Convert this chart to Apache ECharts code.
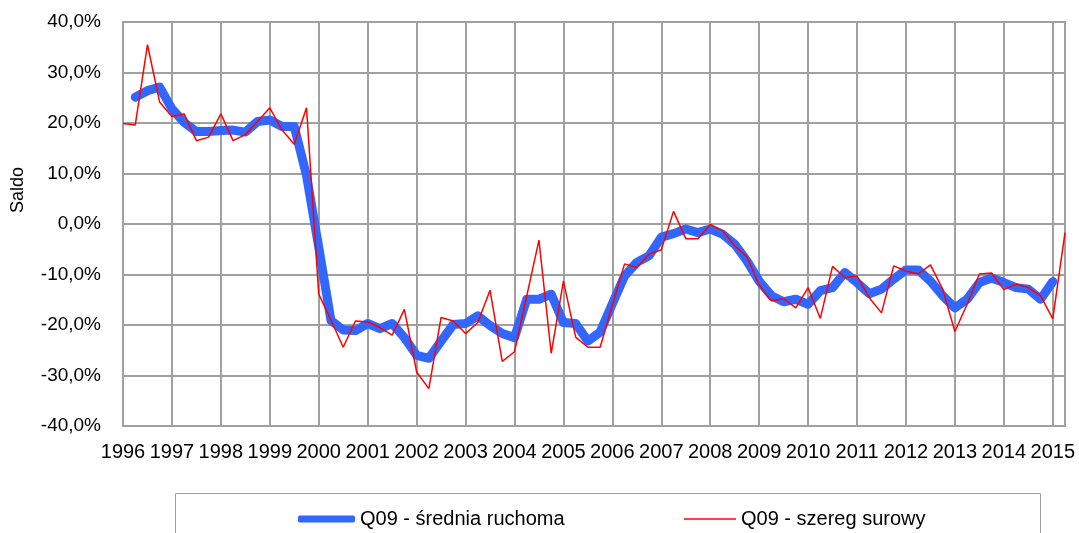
<!DOCTYPE html>
<html>
<head>
<meta charset="utf-8">
<script src="https://cdn.jsdelivr.net/npm/echarts@6/dist/echarts.min.js"></script>
<style>
  html, body { margin: 0; padding: 0; background: #fff; }
  #chart { width: 1079px; height: 533px; }
</style>
</head>
<body>
<div id="chart"></div>
<script>
// lata na osi X, dane kwartalne od 1996 Q1 do 2015 Q2
var years = [1996, 1997, 1998, 1999, 2000, 2001, 2002, 2003, 2004, 2005,
             2006, 2007, 2008, 2009, 2010, 2011, 2012, 2013, 2014, 2015];
var quartersInLastYear = 2;

// Q09 - szereg surowy (%)
var rawSeries = [
  19.9, 19.6, 35.5, 24.1, 21.3, 21.8, 16.5, 17.2, 21.8, 16.5,
  17.7, 20.3, 23.0, 18.6, 15.8, 23.0, -13.9, -19.0, -24.4, -19.2,
  -19.4, -20.5, -22.0, -16.9, -29.3, -32.6, -18.5, -19.2, -21.7, -19.5,
  -13.1, -27.2, -25.3, -14.3, -3.2, -25.6, -11.3, -22.4, -24.4, -24.4,
  -16.1, -7.9, -8.6, -6.0, -5.1, 2.5, -2.9, -2.9, -0.1, -1.3,
  -4.3, -6.5, -12.1, -15.2, -14.8, -16.6, -12.6, -18.7, -8.4, -10.6,
  -10.3, -14.6, -17.6, -8.3, -9.3, -9.9, -8.1, -12.9, -21.3, -15.9,
  -9.9, -9.7, -13.0, -11.9, -12.6, -14.2, -18.8, -1.7
];

// Q09 - średnia ruchoma (%)
var movingAvg = [
  null, 25.1, 26.4, 27.1, 22.8, 20.1, 18.3, 18.3, 18.5, 18.6,
  18.2, 20.3, 20.6, 19.3, 19.3, 9.6, -4.6, -19.1, -21.0, -21.1,
  -19.7, -20.7, -19.7, -22.5, -26.0, -26.6, -23.2, -19.9, -19.7, -18.2,
  -20.1, -21.7, -22.5, -14.9, -14.9, -13.9, -19.5, -19.7, -23.2, -21.4,
  -15.8, -10.3, -7.6, -6.3, -2.6, -1.9, -1.0, -1.7, -1.0, -2.0,
  -4.0, -7.3, -11.3, -14.2, -15.4, -14.9, -15.9, -13.2, -12.6, -9.6,
  -11.6, -13.8, -12.9, -10.9, -9.1, -9.1, -11.3, -14.2, -16.6, -14.9,
  -11.6, -10.7, -11.6, -12.6, -12.9, -14.9, -11.4, null
];

var quarters = [];
for (var y = 0; y < years.length; y++) {
  var n = (y === years.length - 1) ? quartersInLastYear : 4;
  for (var q = 1; q <= n; q++) quarters.push(years[y] + ' Q' + q);
}

var font = "'Liberation Sans', Arial, sans-serif";
var gridColor = '#a0a0a0';
var blue = '#3366FF';
var red = '#FF0000';
var everyYear = function (index) { return index % 4 === 0; };
var legendText = { fontSize: 20, fontFamily: font, color: '#000' };

var myChart = echarts.init(document.getElementById('chart'));
var option = {
  animation: false,
  backgroundColor: '#fff',
  textStyle: { fontFamily: font, color: '#000' },
  grid: {
    left: 123, top: 22, width: 942, height: 404,
    outerBoundsMode: 'none',
    containLabel: false,
    show: true, borderColor: gridColor, borderWidth: 2
  },
  // ramka legendy (wychodzi poza dolną krawędź)
  graphic: [{
    type: 'rect',
    shape: { x: 175.5, y: 493.5, width: 865, height: 80 },
    style: { fill: '#fff', stroke: gridColor, lineWidth: 1 },
    silent: true
  }],
  legend: [{
    left: 298, top: 509,
    padding: 0,
    icon: 'roundRect',
    itemWidth: 57, itemHeight: 7,
    textStyle: legendText,
    data: ['Q09 - średnia ruchoma']
  }, {
    left: 684, top: 509,
    padding: 0,
    icon: 'rect',
    itemWidth: 52, itemHeight: 1.5,
    textStyle: legendText,
    data: ['Q09 - szereg surowy']
  }],
  xAxis: {
    type: 'category',
    data: quarters,
    boundaryGap: false,
    axisLine: { lineStyle: { color: gridColor, width: 2 } },
    axisTick: { show: false },
    axisLabel: {
      interval: everyYear,
      formatter: function (v) { return v.slice(0, 4); },
      fontSize: 20, fontFamily: font, color: '#000', margin: 16
    },
    splitLine: { show: true, interval: everyYear, lineStyle: { color: gridColor, width: 2 } }
  },
  yAxis: {
    type: 'value',
    min: -40, max: 40, interval: 10,
    name: 'Saldo',
    nameLocation: 'middle',
    nameRotate: 90,
    nameGap: 96,
    nameTextStyle: { fontSize: 18, fontFamily: font, color: '#000', padding: [0, 0, 0, 68] },
    axisLine: { show: true, lineStyle: { color: gridColor, width: 2 } },
    axisTick: { show: false },
    axisLabel: {
      formatter: function (v) { return v.toFixed(1).replace('.', ',') + '%'; },
      fontSize: 19, fontFamily: font, color: '#000', margin: 22
    },
    splitLine: { lineStyle: { color: gridColor, width: 2 } }
  },
  series: [{
    name: 'Q09 - średnia ruchoma',
    type: 'line',
    data: movingAvg,
    symbol: 'none',
    color: blue,
    lineStyle: { color: blue, width: 9, cap: 'round', join: 'round' },
    z: 2
  }, {
    name: 'Q09 - szereg surowy',
    type: 'line',
    data: rawSeries,
    symbol: 'none',
    color: red,
    lineStyle: { color: red, width: 1.5 },
    z: 3
  }]
};
myChart.setOption(option);
</script>
</body>
</html>
